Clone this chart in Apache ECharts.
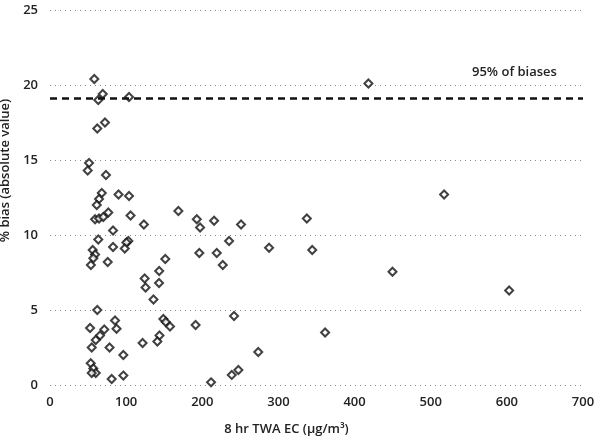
<!DOCTYPE html>
<html>
<head>
<meta charset="utf-8">
<script src="https://cdn.jsdelivr.net/npm/echarts@6/dist/echarts.min.js"></script>
<style>
html, body { margin: 0; padding: 0; background: #fff; }
#chart { width: 600px; height: 442px; }
</style>
</head>
<body>
<div id="chart"></div>
<script>
// 8 hr TWA EC concentration (ug/m3)
var ecValues = [
  58.2, 69.3, 63.4, 103.8, 62.1, 72.2, 51.3, 49.5, 73.5, 68,
  64.4, 61.4, 90, 103.8, 59.2, 64.4, 70, 76.6, 105.8, 123.3,
  168.6, 82.8, 63.4, 102.9, 100.3, 82.8, 98.2, 56.1, 59.2, 56.9,
  53.7, 75.8, 151.4, 143.4, 143.2, 124.3, 125.5, 135.9, 62.1, 85.4,
  87.4, 52.6, 71.3, 65.7, 60.1, 54.8, 78.2, 96.3, 148.9, 152,
  157.6, 143.8, 141, 121.6, 53.5, 56.9, 60.1, 54.8, 81, 96.3,
  191.2, 192.8, 197.1, 215.5, 250.9, 337.3, 235.2, 196.1, 219, 287.7,
  344.4, 226.9, 241.7, 361.3, 273.5, 238.7, 247.4, 211.5, 418.2, 517.6,
  449.8, 603
];
// % bias (absolute value)
var biasValues = [
  20.4, 19.4, 19.0, 19.2, 17.1, 17.5, 14.8, 14.3, 14.0, 12.8,
  12.4, 12.0, 12.7, 12.6, 11.05, 11.1, 11.2, 11.5, 11.3, 10.7,
  11.6, 10.3, 9.7, 9.6, 9.5, 9.2, 9.1, 9.0, 8.7, 8.45,
  8.0, 8.2, 8.4, 7.6, 6.8, 7.1, 6.5, 5.7, 5.0, 4.3,
  3.75, 3.8, 3.7, 3.3, 3.0, 2.5, 2.5, 2.0, 4.4, 4.2,
  3.9, 3.3, 2.9, 2.8, 1.45, 1.1, 0.8, 0.8, 0.4, 0.63,
  4.0, 11.05, 10.5, 10.95, 10.7, 11.1, 9.6, 8.8, 8.8, 9.15,
  9.0, 8.0, 4.6, 3.5, 2.2, 0.67, 1.0, 0.18, 20.1, 12.7,
  7.55, 6.3
];
var bias95 = 19.1;
var xTicks = { min: 0, max: 700, step: 100 };
var yTicks = { min: 0, max: 25, step: 5 };

var points = ecValues.map(function (x, i) { return [x, biasValues[i]]; });

var myChart = echarts.init(document.getElementById('chart'));
var labelFont = { fontFamily: 'Open Sans', fontSize: 13, fontWeight: 600, color: '#222' };

myChart.setOption({
  animation: false,
  backgroundColor: '#fff',
  grid: { left: 50, right: 17, top: 10, bottom: 57, outerBoundsMode: 'none', containLabel: false },
  xAxis: {
    type: 'value',
    min: xTicks.min, max: xTicks.max, interval: xTicks.step,
    name: '8 hr TWA EC (µg/m³)',
    nameLocation: 'middle',
    nameGap: 38,
    nameTextStyle: { fontFamily: 'Open Sans', fontSize: 13, fontWeight: 600, color: '#222', padding: [0, 60, 0, 0] },
    axisLine: { show: false },
    axisTick: { show: false },
    splitLine: { show: false },
    axisLabel: Object.assign({ margin: 11 }, labelFont)
  },
  yAxis: {
    type: 'value',
    min: yTicks.min, max: yTicks.max, interval: yTicks.step,
    name: '% bias (absolute value)',
    nameLocation: 'middle',
    nameGap: 34,
    nameTextStyle: { fontFamily: 'Open Sans', fontSize: 13, fontWeight: 600, color: '#222', padding: [0, 0, 0, 54] },
    axisLine: { show: false },
    axisTick: { show: false },
    axisLabel: Object.assign({ margin: 12 }, labelFont),
    splitLine: { show: true, lineStyle: { type: [1, 4], color: '#888', width: 1 } }
  },
  graphic: [{
    type: 'text',
    left: 472,
    top: 66,
    style: { text: '95% of biases', font: '600 13px "Open Sans"', fill: '#222' }
  }],
  series: [{
    type: 'scatter',
    data: points,
    symbol: 'diamond',
    symbolSize: 8,
    itemStyle: { color: '#fff', borderColor: '#111', borderWidth: 2 },
    markLine: {
      silent: true,
      symbol: 'none',
      label: { show: false },
      lineStyle: { type: [7, 5], color: '#111', width: 2.5 },
      data: [{ yAxis: bias95 }]
    }
  }]
});
</script>
</body>
</html>
